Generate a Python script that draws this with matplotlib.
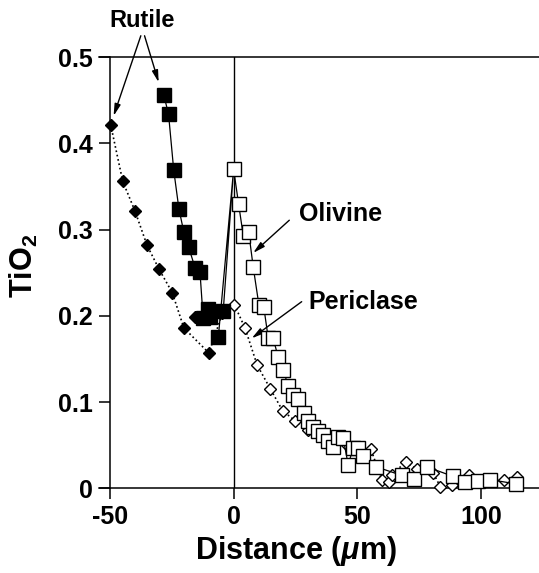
import numpy as np
import matplotlib
matplotlib.use('agg')
import matplotlib.pyplot as plt

plt.rcParams['font.family'] = ['Liberation Sans', 'DejaVu Sans']
plt.rcParams['font.weight'] = 'bold'
plt.rcParams['mathtext.fontset'] = 'custom'
plt.rcParams['mathtext.rm'] = 'Liberation Sans:bold'
plt.rcParams['mathtext.it'] = 'Liberation Sans:bold:italic'
plt.rcParams['mathtext.bf'] = 'Liberation Sans:bold'

# rutile side, filled squares (path order)
rut_sq_x = [-28.2, -26.3, -24.2, -22.1, -20.1, -18.2, -15.6, -13.6, -12.3, -10.3, -9.6, -4.2, -6.2]
rut_sq_y = [0.456, 0.434, 0.369, 0.324, 0.297, 0.280, 0.256, 0.251, 0.197, 0.208, 0.199, 0.206, 0.175]

# rutile side, filled diamonds
rut_dia_x = [-49.7, -44.8, -39.9, -35.0, -30.1, -24.8, -20.1, -10.0, -4.5]
rut_dia_y = [0.422, 0.356, 0.322, 0.282, 0.254, 0.227, 0.186, 0.157, 0.203]
rut_dia_extra_x = [-15.6]
rut_dia_extra_y = [0.199]

# olivine, open squares
ol_x = [0.0, 2.0, 3.9, 6.1, 7.9, 10.2, 12.2, 14.0, 16.0, 18.0, 20.0, 22.1, 24.1, 26.1,
        28.4, 30.1, 32.2, 34.2, 36.2, 38.2, 40.2, 42.3, 44.3, 46.3, 48.3, 50.3, 52.4,
        57.5, 67.9, 73.0, 78.0, 88.5, 93.5, 98.6, 103.8, 114.3]
ol_y = [0.370, 0.330, 0.293, 0.297, 0.257, 0.213, 0.210, 0.174, 0.174, 0.152, 0.137, 0.119, 0.108, 0.104,
        0.087, 0.078, 0.071, 0.066, 0.062, 0.055, 0.048, 0.060, 0.058, 0.027, 0.047, 0.047, 0.037,
        0.025, 0.015, 0.011, 0.025, 0.014, 0.007, 0.009, 0.010, 0.005]

# periclase, open diamonds
per_x = [0.3, 4.6, 9.5, 14.9, 19.8, 25.0, 30.0, 35.0, 40.0, 45.0, 50.0, 55.4, 59.8, 62.9, 63.8,
         69.6, 74.0, 80.6, 83.5, 88.1, 95.0, 100.0, 109.2, 114.5]
per_y = [0.213, 0.186, 0.143, 0.115, 0.090, 0.078, 0.068, 0.062, 0.058, 0.052, 0.048, 0.046, 0.010, 0.007, 0.015,
         0.031, 0.022, 0.018, 0.002, 0.004, 0.016, 0.010, 0.010, 0.013]

x_ticks = [-50, 0, 50, 100]
y_ticks = [0, 0.1, 0.2, 0.3, 0.4, 0.5]

fig = plt.figure(figsize=(5.39, 5.73), dpi=100)
ax = fig.add_axes([99/539, 1 - 488.3/573, 440/539, 431/573])

# dotted diamonds
ax.plot(rut_dia_x, rut_dia_y, ls=':', color='black', lw=1.2, marker='D', ms=6.3,
        mfc='black', mec='black', clip_on=False, zorder=3)
ax.plot(rut_dia_extra_x, rut_dia_extra_y, ls='none', marker='D', ms=6.3,
        mfc='black', mec='black', clip_on=False, zorder=3)
ax.plot(per_x, per_y, ls=':', color='black', lw=1.2, marker='D', ms=5.8,
        mfc='white', mec='black', mew=1.0, clip_on=False, zorder=3)

# solid squares, joined to the olivine profile at the interface
ax.plot(rut_sq_x[:-1] + [ol_x[0]] + [rut_sq_x[-1]], rut_sq_y[:-1] + [ol_y[0]] + [rut_sq_y[-1]],
        ls='-', color='black', lw=0.9, clip_on=False, zorder=4)
ax.plot(rut_sq_x, rut_sq_y, ls='none', marker='s', ms=9.8, mfc='black', mec='black',
        clip_on=False, zorder=5)
ax.plot(ol_x, ol_y, ls='-', color='black', lw=0.9, marker='s', ms=9.8,
        mfc='white', mec='black', mew=1.0, clip_on=False, zorder=5)

ax.axvline(0, color='black', lw=1.0, zorder=2)

ax.set_xlim(-54.4, 123.4)
ax.set_ylim(0, 0.5)
ax.spines['left'].set_position(('data', -50))
ax.spines['right'].set_visible(False)
for s in ['left', 'bottom', 'top']:
    ax.spines[s].set_linewidth(1.1)

ax.set_xticks(x_ticks)
ax.set_xticklabels(['-50', '0', '50', '100'])
ax.set_yticks(y_ticks)
ax.set_yticklabels(['0', '0.1', '0.2', '0.3', '0.4', '0.5'])
ax.tick_params(axis='both', direction='out', length=8, width=1.1, labelsize=18, pad=4)

ax.set_xlabel(r'Distance ($\mathit{\mu}$m)', fontsize=22, fontweight='bold')
ax.xaxis.set_label_coords(0.448, -0.105)
ax.set_ylabel(r'TiO$_2$', fontsize=22, fontweight='bold')
ax.yaxis.set_label_coords(-0.135, 0.516)

arrow = dict(arrowstyle='-|>,head_length=0.7,head_width=0.18', color='black', lw=1.0, shrinkA=0, shrinkB=0)
ax.annotate('', xy=(-48.5, 0.432), xytext=(-37.5, 0.525), arrowprops=arrow, annotation_clip=False)
ax.annotate('', xy=(-30.3, 0.471), xytext=(-36.0, 0.525), arrowprops=arrow, annotation_clip=False)
ax.text(-37.0, 0.543, 'Rutile', fontsize=17, fontweight='bold', ha='center', va='center', clip_on=False)

ax.annotate('', xy=(7.9, 0.273), xytext=(22.5, 0.311), arrowprops=arrow)
ax.text(26.5, 0.318, 'Olivine', fontsize=18, fontweight='bold', ha='left', va='center')
ax.annotate('', xy=(7.3, 0.174), xytext=(27.5, 0.2165), arrowprops=arrow)
ax.text(30.1, 0.2165, 'Periclase', fontsize=18, fontweight='bold', ha='left', va='center')

fig.savefig('out.png', dpi=100)
